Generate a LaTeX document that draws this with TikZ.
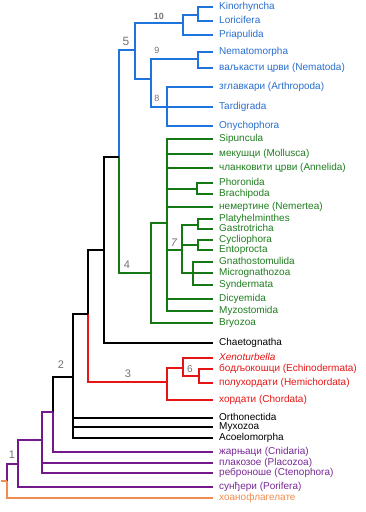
\documentclass[tikz,border=0pt]{standalone}
\usepackage{fontspec}
\setmainfont{Liberation Sans}
\definecolor{cbl}{RGB}{30,115,220}
\definecolor{tbl}{RGB}{40,110,205}
\definecolor{cgr}{RGB}{20,120,20}
\definecolor{tgr}{RGB}{30,125,30}
\definecolor{crd}{RGB}{230,20,20}
\definecolor{cpu}{RGB}{115,25,140}
\definecolor{tpu}{RGB}{120,40,150}
\definecolor{cor}{RGB}{240,140,80}
\definecolor{cgy}{RGB}{115,115,115}
\tikzset{
  leaf/.style={anchor=west,inner xsep=6pt,inner ysep=0pt,text height=7pt,text depth=2pt,font=\fontsize{10}{10}\selectfont},
  lb/.style={leaf,text=tbl}, lg/.style={leaf,text=tgr}, lr/.style={leaf,text=crd},
  lk/.style={leaf,text=black}, lp/.style={leaf,text=tpu}, lo/.style={leaf,text=cor},
  br/.style={line width=2pt,line join=miter},
  bb/.style={br,draw=cbl}, bg/.style={br,draw=cgr}, brd/.style={br,draw=crd},
  bk/.style={br,draw=black}, bp/.style={br,draw=cpu}, bo/.style={br,draw=cor},
  num/.style={text=cgy,inner sep=0pt,font=\fontsize{11}{11}\selectfont},
  nums/.style={text=cgy,inner sep=0pt,font=\fontsize{9}{9}\selectfont}
}
\begin{document}
\begin{tikzpicture}[x=1pt,y=-1pt]
\useasboundingbox (0,0) rectangle (366,512);
% leaves
\node[lb] (kin) at (213,7) {Kinorhyncha};
\node[lb] (lor) at (213,21) {Loricifera};
\node[lb] (pria) at (213,35) {Priapulida};
\node[lb] (nmorph) at (213,52) {Nematomorpha};
\node[lb] (nemat) at (213,68) {ваљкасти црви (Nematoda)};
\node[lb] (arth) at (213,87) {зглавкари (Arthropoda)};
\node[lb] (tard) at (213,107) {Tardigrada};
\node[lb] (onych) at (213,126) {Onychophora};
\node[lg] (sipun) at (213,139) {Sipuncula};
\node[lg] (moll) at (213,154) {мекушци (Mollusca)};
\node[lg] (annel) at (213,168) {чланковити црви (Annelida)};
\node[lg] (phor) at (213,183) {Phoronida};
\node[lg] (brach) at (213,194) {Brachipoda};
\node[lg] (nemert) at (213,207) {немертине (Nemertea)};
\node[lg] (platy) at (213,219) {Platyhelminthes};
\node[lg] (gastro) at (213,229) {Gastrotricha};
\node[lg] (cyclio) at (213,240) {Cycliophora};
\node[lg] (ento) at (213,250) {Entoprocta};
\node[lg] (gnath) at (213,262) {Gnathostomulida};
\node[lg] (micro) at (213,273) {Micrognathozoa};
\node[lg] (synd) at (213,285) {Syndermata};
\node[lg] (dicy) at (213,299) {Dicyemida};
\node[lg] (myzo) at (213,311) {Myzostomida};
\node[lg] (bryo) at (213,323) {Bryozoa};
\node[lk] (chaet) at (213,343) {Chaetognatha};
\node[lr] (xeno) at (213,358) {\itshape Xenoturbella};
\node[lr] (echi) at (213,369) {бодљокошци (Echinodermata)};
\node[lr] (hemi) at (213,383) {полухордати (Hemichordata)};
\node[lr] (chord) at (213,400) {хордати (Chordata)};
\node[lk] (orth) at (213,418) {Orthonectida};
\node[lk] (myxo) at (213,427) {Myxozoa};
\node[lk] (acoel) at (213,438) {Acoelomorpha};
\node[lp] (cnid) at (213,452) {жарњаци (Cnidaria)};
\node[lp] (plac) at (213,463) {плакозое (Placozoa)};
\node[lp] (cteno) at (213,473) {реброноше (Ctenophora)};
\node[lp] (porif) at (213,487) {сунђери (Porifera)};
\node[lo] (choano) at (213,498) {хоанофлагелате};
% internal nodes
\coordinate (nKL) at (198,15);
\coordinate (n10) at (183,23);
\coordinate (n9) at (198,59);
\coordinate (n8) at (167,107);
\coordinate (n98) at (151,79);
\coordinate (n5) at (135,50);
\coordinate (n54) at (119,157);
\coordinate (nPB) at (197,189);
\coordinate (nPG) at (198,225);
\coordinate (nCE) at (198,245);
\coordinate (nGMS) at (193,273);
\coordinate (n7) at (182,250);
\coordinate (ngreen) at (167,223);
\coordinate (n4) at (151,273);
\coordinate (nch) at (104,250);
\coordinate (nbil) at (88,314);
\coordinate (n6s) at (199,376);
\coordinate (n6) at (183,368);
\coordinate (n3) at (167,382);
\coordinate (n2) at (73,377);
\coordinate (ncn) at (53,412);
\coordinate (npl) at (42,440);
\coordinate (npor) at (18,464);
\coordinate (n1) at (7,481);
\coordinate (root) at (1,481);
% blue
\draw[bb] (kin.west) -| (nKL) |- (lor.west);
\draw[bb] (nKL) -| (n10) |- (pria.west);
\draw[bb] (nmorph.west) -| (n9) |- (nemat.west);
\draw[bb] (arth.west) -| (n8) |- (onych.west);
\draw[bb] (n8) -- (tard.west);
\draw[bb] (n9) -| (n98) |- (n8);
\draw[bb] (n10) -| (n5) |- (n98);
\draw[bb] (n5) -| (n54);
\draw[bg] (n54) |- (n4);
% green
\draw[bg] (phor.west) -| (nPB) |- (brach.west);
\draw[bg] (platy.west) -| (nPG) |- (gastro.west);
\draw[bg] (cyclio.west) -| (nCE) |- (ento.west);
\draw[bg] (gnath.west) -| (nGMS) |- (synd.west);
\draw[bg] (nGMS) -- (micro.west);
\draw[bg] (nPG) -| (n7) |- (nGMS);
\draw[bg] (n7 |- nCE) -- (nCE);
\draw[bg] (sipun.west) -| (ngreen) |- (myzo.west);
\draw[bg] (ngreen |- moll.west) -- (moll.west);
\draw[bg] (ngreen |- annel.west) -- (annel.west);
\draw[bg] (ngreen |- nPB) -- (nPB);
\draw[bg] (ngreen |- nemert.west) -- (nemert.west);
\draw[bg] (ngreen |- n7) -- (n7);
\draw[bg] (ngreen |- dicy.west) -- (dicy.west);
\draw[bg] (ngreen) -| (n4) |- (bryo.west);
% black / red
\draw[bk] (n54) -| (nch) |- (chaet.west);
\draw[bk] (nch) -| (nbil);
\draw[brd] (nbil) |- (n3);
\draw[brd] (n6) -| (n3) |- (chord.west);
\draw[brd] (xeno.west) -| (n6) |- (n6s);
\draw[brd] (echi.west) -| (n6s) |- (hemi.west);
\draw[bk] (nbil) -| (n2) |- (acoel.west);
\draw[bk] (n2 |- orth.west) -- (orth.west);
\draw[bk] (n2 |- myxo.west) -- (myxo.west);
% purple / orange
\draw[bk] (n2) -| (ncn);
\draw[bp] (ncn) |- (cnid.west);
\draw[bp] (ncn) -| (npl) |- (cteno.west);
\draw[bp] (npl |- plac.west) -- (plac.west);
\draw[bp] (npl) -| (npor) |- (porif.west);
\draw[bp] (npor) -| (n1);
\draw[bo] (n1) |- (choano.west);
\draw[bo,line width=1.5pt] (root) -- (n1);
% clade numbers
\node[nums,font=\bfseries\fontsize{9}{9}\selectfont] (l10) at (159,16) {10};
\node[nums] (l9) at (157,50) {9};
\node[nums] (l8) at (157,98) {8};
\node[num,font=\fontsize{12}{12}\selectfont] (l5) at (126,41) {5};
\node[num] (l7) at (174,243) {\itshape 7};
\node[num] (l4) at (127,265) {4};
\node[nums,font=\fontsize{10}{10}\selectfont] (l6) at (190,369) {6};
\node[num] (l3) at (128,374) {3};
\node[num] (l2) at (61,365) {2};
\node[num] (l1) at (12,455) {1};
\end{tikzpicture}
\end{document}
